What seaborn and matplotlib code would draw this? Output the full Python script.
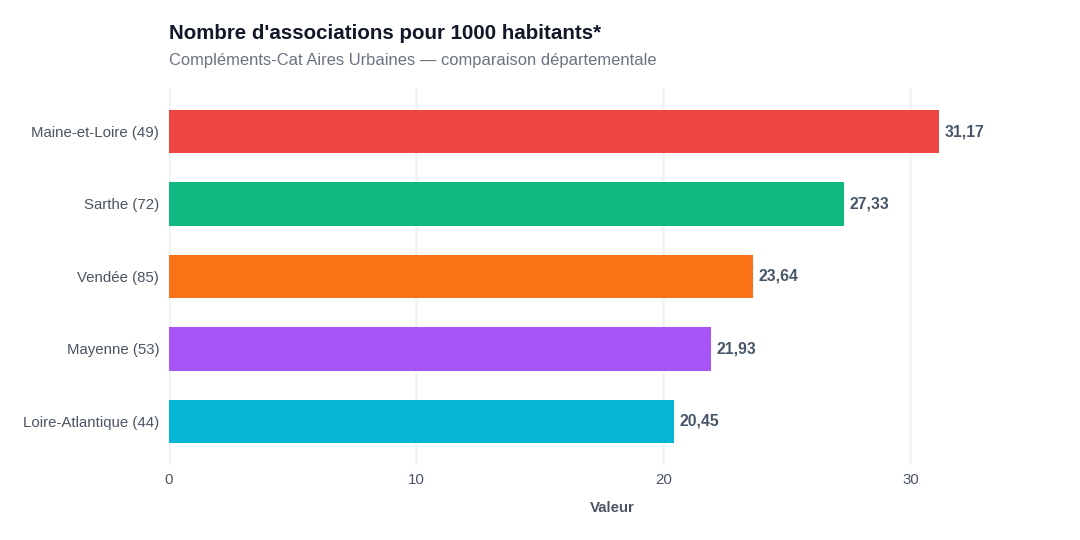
import pandas as pd
import matplotlib
matplotlib.use("Agg")
import matplotlib.pyplot as plt
import seaborn as sns

departements = ["Maine-et-Loire (49)", "Sarthe (72)", "Vendée (85)", "Mayenne (53)", "Loire-Atlantique (44)"]
valeurs = [31.17, 27.33, 23.64, 21.93, 20.45]
couleurs = ["#EF4444", "#10B981", "#F97316", "#A855F7", "#06B6D4"]

df = pd.DataFrame({"departement": departements, "valeur": valeurs})

sns.set_theme(style="white")
plt.rcParams["font.family"] = ["Liberation Sans", "DejaVu Sans"]

fig = plt.figure(figsize=(10.8, 5.4), dpi=100)
ax = fig.add_axes([0.1565, 0.139, 0.8204, 0.698])

sns.barplot(data=df, y="departement", x="valeur", hue="departement",
            palette=couleurs, orient="h", width=0.6, legend=False, ax=ax,
            saturation=1, linewidth=0)

ax.set_xlim(0, 35.85)
ax.set_ylim(4.6, -0.6)
ax.set_xticks([0, 10, 20, 30])
ax.grid(axis="x", color="#f2f3f6", linewidth=1.8)
ax.set_axisbelow(True)
for s in ax.spines.values():
    s.set_visible(False)

ax.tick_params(axis="both", length=0, colors="#4b5563", labelsize=10.8)
ax.tick_params(axis="y", pad=7)
ax.tick_params(axis="x", pad=6)
ax.set_ylabel("")
ax.set_xlabel("Valeur", fontsize=10.8, fontweight="bold", color="#4b5563", labelpad=10)

for i, v in enumerate(valeurs):
    ax.text(v + 0.22, i, f"{v:.2f}".replace(".", ","), va="center", ha="left",
            fontsize=11.3, fontweight="bold", color="#475569")

fig.text(0.1565, 0.938, "Nombre d'associations pour 1000 habitants*", fontsize=14.8,
         fontweight="bold", color="#111827", va="center", ha="left")
fig.text(0.1565, 0.888, "Compléments-Cat Aires Urbaines — comparaison départementale",
         fontsize=11.9, color="#6b7280", va="center", ha="left")

fig.savefig("out.png", dpi=100)
